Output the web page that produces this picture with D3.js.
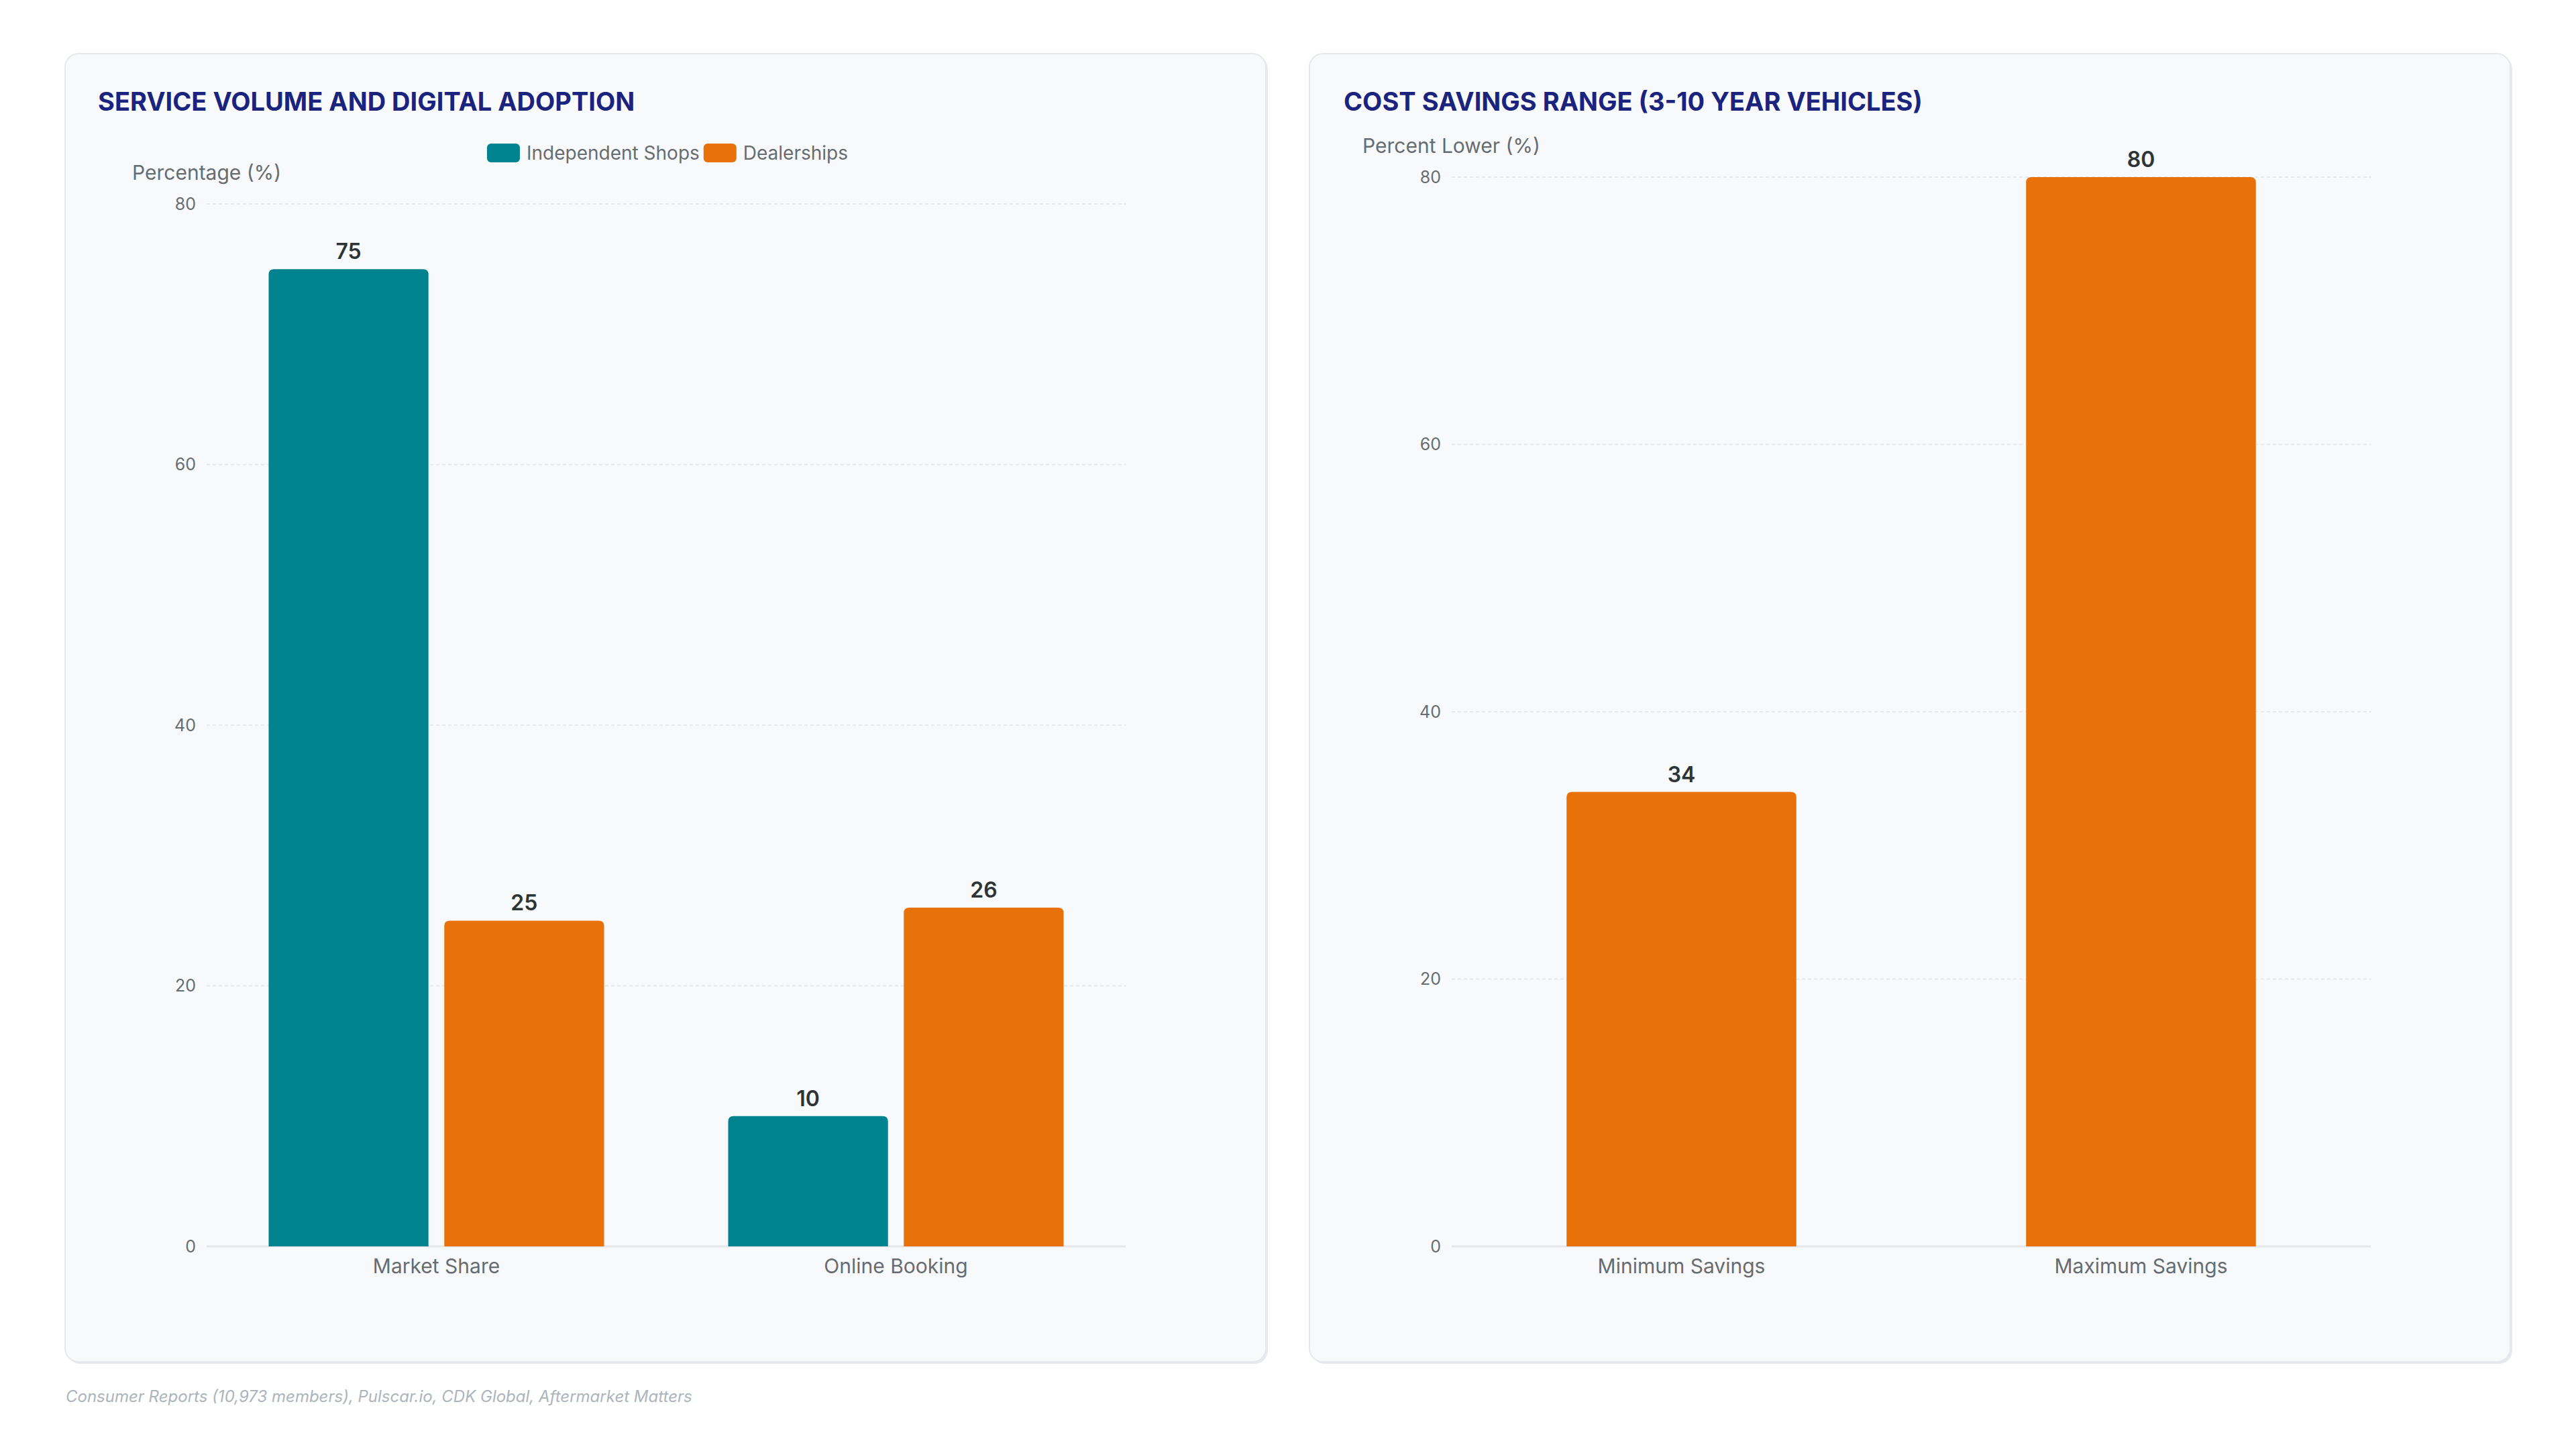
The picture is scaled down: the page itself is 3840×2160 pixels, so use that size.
<!DOCTYPE html>
<meta charset="utf-8">
<head>
  <style>
    body { margin: 0; background: #fff; }
    svg { display: block; font-family: Inter, "Noto Sans", sans-serif; }
    .panel { fill: #f8f9fb; stroke: #e6e8ec; stroke-width: 2px; }
    .shadow { fill: #e6e9ed; }
    .title { fill: #1a237e; font-weight: 700; font-size: 38px; letter-spacing: 0px; }
    .ytitle { fill: #666c70; font-size: 30px; }
    .tick { fill: #666c70; font-size: 25px; }
    .xlab { fill: #666c70; font-size: 30px; }
    .grid { stroke: #e7e9ec; stroke-width: 2px; stroke-dasharray: 5 4; }
    .base { stroke: #e5e7eb; stroke-width: 3px; }
    .val { fill: #2d3436; font-size: 32px; font-weight: 600; }
    .leg { fill: #666c70; font-size: 28px; }
    .foot { fill: #acb4bc; font-size: 24px; font-style: italic; }
  </style>
  <script src="https://cdn.jsdelivr.net/npm/d3@7"></script>
</head>
<body>
<script>
  // chart data
  var volCategories = ["Market Share", "Online Booking"]
    , volSeries = ["Independent Shops", "Dealerships"]
    , independentValues = [75, 10]
    , dealershipValues = [25, 26]
    , savingsCategories = ["Minimum Savings", "Maximum Savings"]
    , savingsValues = [34, 80]
    , yTicks = [0, 20, 40, 60, 80]
    , teal = "#00838f"
    , orange = "#e8710a"
    ;

  var svg = d3.select("body").append("svg")
      .attr("width", 3840)
      .attr("height", 2160);

  // top-rounded bar
  function barPath(x, y, w, h, r) {
    r = Math.min(r, h / 2, w / 2);
    return "M" + x + "," + (y + h) +
      "V" + (y + r) +
      "Q" + x + "," + y + " " + (x + r) + "," + y +
      "H" + (x + w - r) +
      "Q" + (x + w) + "," + y + " " + (x + w) + "," + (y + r) +
      "V" + (y + h) + "Z";
  }

  function panelBox(x, y, w, h) {
    svg.append("rect").attr("class", "shadow")
      .attr("x", x + 3).attr("y", y + 3).attr("width", w).attr("height", h).attr("rx", 20);
    svg.append("rect").attr("class", "panel")
      .attr("x", x).attr("y", y).attr("width", w).attr("height", h).attr("rx", 20);
  }

  function yAxisGrid(g, y, x0, x1) {
    g.selectAll(".grid").data(yTicks.filter(function(d) { return d > 0; }))
      .enter().append("line").attr("class", "grid")
      .attr("x1", x0).attr("x2", x1)
      .attr("y1", function(d) { return y(d); })
      .attr("y2", function(d) { return y(d); });
    g.append("line").attr("class", "base")
      .attr("x1", x0).attr("x2", x1).attr("y1", y(0)).attr("y2", y(0));
    g.selectAll(".tick").data(yTicks)
      .enter().append("text").attr("class", "tick")
      .attr("x", x0 - 16)
      .attr("y", function(d) { return y(d); })
      .attr("dy", "0.35em")
      .attr("text-anchor", "end")
      .text(function(d) { return d; });
  }

  // ---------- panel 1 ----------
  panelBox(97, 80, 1790, 1950);
  svg.append("text").attr("class", "title").attr("x", 146).attr("y", 165)
    .text("SERVICE VOLUME AND DIGITAL ADOPTION");
  svg.append("text").attr("class", "ytitle").attr("x", 197).attr("y", 268)
    .text("Percentage (%)");

  var y1 = d3.scaleLinear().domain([0, 80]).range([1858, 304]);
  var x0 = d3.scaleBand().domain(volCategories).range([308, 1678])
      .paddingInner(0.27).paddingOuter(0.135);
  var x1 = d3.scaleBand().domain(volSeries).range([0, x0.bandwidth()])
      .paddingInner(0.09);
  var colour = d3.scaleOrdinal().domain(volSeries).range([teal, orange]);

  var g1 = svg.append("g");
  yAxisGrid(g1, y1, 308, 1678);

  var rows = volCategories.map(function(c, i) {
    return { cat: c, vals: [
      { s: volSeries[0], v: independentValues[i] },
      { s: volSeries[1], v: dealershipValues[i] } ] };
  });

  var grp = g1.selectAll(".grp").data(rows).enter().append("g")
      .attr("transform", function(d) { return "translate(" + x0(d.cat) + ",0)"; });
  grp.selectAll("path").data(function(d) { return d.vals; })
    .enter().append("path")
      .attr("fill", function(d) { return colour(d.s); })
      .attr("d", function(d) {
        return barPath(x1(d.s), y1(d.v), x1.bandwidth(), y1(0) - y1(d.v), 8);
      });
  grp.selectAll(".val").data(function(d) { return d.vals; })
    .enter().append("text").attr("class", "val")
      .attr("text-anchor", "middle")
      .attr("x", function(d) { return x1(d.s) + x1.bandwidth() / 2; })
      .attr("y", function(d) { return y1(d.v) - 15; })
      .text(function(d) { return d.v; });

  g1.selectAll(".xlab").data(volCategories).enter().append("text")
    .attr("class", "xlab").attr("text-anchor", "middle")
    .attr("x", function(d) { return x0(d) + x0.bandwidth() / 2; })
    .attr("y", 1898)
    .text(function(d) { return d; });

  // legend, centred over plot
  var leg = svg.append("g");
  var lx = 0;
  volSeries.forEach(function(s, i) {
    var item = leg.append("g").attr("transform", "translate(" + lx + ",0)");
    item.append("rect").attr("x", 0).attr("y", 214).attr("width", 49).attr("height", 28)
      .attr("rx", 6).attr("fill", colour(s));
    var t = item.append("text").attr("class", "leg").attr("x", 59).attr("y", 238).text(s);
    lx += 59 + t.node().getComputedTextLength() + 6;
  });
  leg.attr("transform", "translate(" + (995 - (lx - 6) / 2) + ",0)");

  // ---------- panel 2 ----------
  panelBox(1952, 80, 1790, 1950);
  svg.append("text").attr("class", "title").attr("x", 2003).attr("y", 165)
    .text("COST SAVINGS RANGE (3-10 YEAR VEHICLES)");
  svg.append("text").attr("class", "ytitle").attr("x", 2031).attr("y", 228)
    .text("Percent Lower (%)");

  var y2 = d3.scaleLinear().domain([0, 80]).range([1858, 264]);
  var xs = d3.scaleBand().domain(savingsCategories).range([2164, 3534])
      .paddingInner(0.5).paddingOuter(0.25);

  var g2 = svg.append("g");
  yAxisGrid(g2, y2, 2164, 3534);

  var sav = savingsCategories.map(function(c, i) { return { cat: c, v: savingsValues[i] }; });
  g2.selectAll(".bar").data(sav).enter().append("path")
    .attr("fill", orange)
    .attr("d", function(d) {
      return barPath(xs(d.cat), y2(d.v), xs.bandwidth(), y2(0) - y2(d.v), 8);
    });
  g2.selectAll(".val").data(sav).enter().append("text").attr("class", "val")
    .attr("text-anchor", "middle")
    .attr("x", function(d) { return xs(d.cat) + xs.bandwidth() / 2; })
    .attr("y", function(d) { return y2(d.v) - 15; })
    .text(function(d) { return d.v; });
  g2.selectAll(".xlab").data(savingsCategories).enter().append("text")
    .attr("class", "xlab").attr("text-anchor", "middle")
    .attr("x", function(d) { return xs(d) + xs.bandwidth() / 2; })
    .attr("y", 1898)
    .text(function(d) { return d; });

  // source note
  svg.append("text").attr("class", "foot").attr("x", 98).attr("y", 2090)
    .text("Consumer Reports (10,973 members), Pulscar.io, CDK Global, Aftermarket Matters");
</script>
</body>
